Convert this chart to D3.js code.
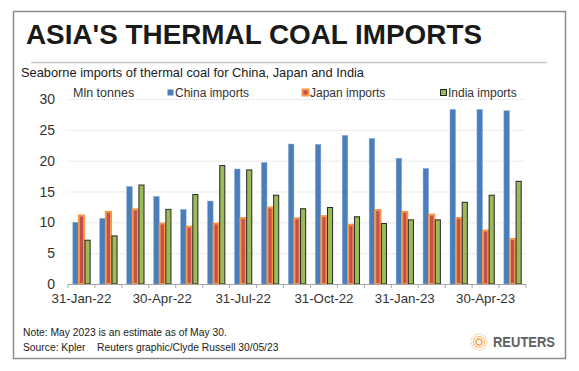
<!DOCTYPE html>
<html>
<head>
<meta charset="utf-8">
<script src="https://cdn.jsdelivr.net/npm/d3@7"></script>
<style>
  body { margin: 0; background: #fff; }
  svg { font-family: "Liberation Sans", Arial, sans-serif; }
</style>
</head>
<body>
<div id="chart"></div>
<script>
// monthly seaborne thermal coal imports, mln tonnes
const months = ["31-Jan-22","28-Feb-22","31-Mar-22","30-Apr-22","31-May-22","30-Jun-22","31-Jul-22","31-Aug-22",
    "30-Sep-22","31-Oct-22","30-Nov-22","31-Dec-22","31-Jan-23","28-Feb-23","31-Mar-23","30-Apr-23","31-May-23"]
const china = [10.0,10.65,15.8,14.2,12.1,13.45,18.65,19.7,22.7,22.65,24.1,23.6,20.4,18.75,28.3,28.3,28.1]
const japan = [11.1,11.7,12.1,9.8,9.3,9.8,10.7,12.4,10.65,11.0,9.6,12.0,11.7,11.25,10.7,8.65,7.3]
const india = [7.1,7.8,16.05,12.1,14.5,19.2,18.5,14.4,12.2,12.4,10.9,9.8,10.4,10.4,13.25,14.4,16.65]
const seriesNames = ["China imports","Japan imports","India imports"]
const yTicks = [0,5,10,15,20,25,30]

const W = 579, H = 371
const margin = {left: 68, right: 53, top: 99, bottom: 87}

let svg = d3.select("#chart").append("svg")
    .attr("width", W).attr("height", H)

// frame
svg.append("rect").attr("x", 13.5).attr("y", 11.5).attr("width", 552).attr("height", 347)
    .attr("fill", "#fff").attr("stroke", "#8c8c8c").attr("stroke-width", 1.5)

svg.append("text").attr("x", 26).attr("y", 44)
    .style("font-size", "28.5px").style("font-weight", "bold").attr("fill", "#1a1a1a")
    .attr("textLength", 456).attr("lengthAdjust", "spacingAndGlyphs")
    .text("ASIA'S THERMAL COAL IMPORTS")

svg.append("line").attr("x1", 31).attr("x2", 547).attr("y1", 62.5).attr("y2", 62.5)
    .attr("stroke", "#c8c8c8").attr("stroke-width", 1.5)

svg.append("text").attr("x", 21).attr("y", 77)
    .style("font-size", "13px").attr("fill", "#1a1a1a")
    .attr("textLength", 343).attr("lengthAdjust", "spacingAndGlyphs")
    .text("Seaborne imports of thermal coal for China, Japan and India")

let x = d3.scaleBand().domain(months)
    .range([margin.left, W - margin.right])
    .paddingInner(0.32).paddingOuter(0.16)

let xs = d3.scaleBand().domain(seriesNames).range([0, x.bandwidth()])

let y = d3.scaleLinear().domain([0, 30]).range([H - margin.bottom, margin.top])

// gridlines
svg.append("g").selectAll("line").data(yTicks.slice(1)).join("line")
    .attr("x1", margin.left).attr("x2", W - margin.right)
    .attr("y1", d => y(d) + 0.5).attr("y2", d => y(d) + 0.5)
    .attr("stroke", "#d9d9d9").attr("stroke-dasharray", "1,1")

// y labels
svg.append("g").selectAll("text").data(yTicks).join("text")
    .attr("x", 55).attr("y", d => y(d) + 5)
    .attr("text-anchor", "end").style("font-size", "14px").attr("fill", "#333")
    .text(d => d)

// bars
let data = months.map((m, i) => ({m: m, v: [china[i], japan[i], india[i]]}))
let groups = svg.append("g").selectAll("g").data(data).join("g")
    .attr("transform", d => `translate(${x(d.m)},0)`)

groups.append("rect")
    .attr("x", xs("China imports") + 0.5).attr("width", xs.bandwidth() - 0.5)
    .attr("y", d => y(d.v[0])).attr("height", d => y(0) - y(d.v[0]))
    .attr("fill", "#4a7ebb").attr("stroke", "#8eb0dc").attr("stroke-width", 0.5)

groups.append("rect")
    .attr("x", xs("Japan imports") + 0.5).attr("width", xs.bandwidth() - 1)
    .attr("y", d => y(d.v[1])).attr("height", d => y(0) - y(d.v[1]))
    .attr("fill", "#c0504d").attr("stroke", "#f79646").attr("stroke-width", 2)

groups.append("rect")
    .attr("x", xs("India imports") + 0.5).attr("width", xs.bandwidth() - 1)
    .attr("y", d => y(d.v[2])).attr("height", d => y(0) - y(d.v[2]))
    .attr("fill", "#9bbb59").attr("stroke", "#262626").attr("stroke-width", 1)

// x axis
let step = x.step()
svg.append("line").attr("x1", margin.left).attr("x2", W - margin.right)
    .attr("y1", y(0) + 0.5).attr("y2", y(0) + 0.5).attr("stroke", "#a6a6a6")
let bounds = d3.range(months.length + 1).map(i => margin.left + i * step)
svg.append("g").selectAll("line").data(bounds).join("line")
    .attr("x1", d => d).attr("x2", d => d)
    .attr("y1", y(0)).attr("y2", y(0) + 4).attr("stroke", "#a6a6a6")

svg.append("g").selectAll("text").data(months.filter((m, i) => i % 3 == 0)).join("text")
    .attr("x", d => x(d) + x.bandwidth() / 2).attr("y", y(0) + 19)
    .attr("text-anchor", "middle").style("font-size", "13.3px").attr("fill", "#333")
    .text(d => d)

// legend
svg.append("text").attr("x", 73).attr("y", 97).style("font-size", "12.5px").attr("fill", "#333")
    .text("Mln tonnes")
let legX = [167, 302, 440]
let leg = svg.append("g").selectAll("g").data(seriesNames).join("g")
    .attr("transform", (d, i) => `translate(${legX[i]},89)`)
leg.append("rect").attr("x", 0.5).attr("y", 0.5).attr("width", 6).attr("height", 6)
    .attr("fill", (d, i) => ["#4a7ebb", "#c0504d", "#9bbb59"][i])
    .attr("stroke", (d, i) => ["#4a7ebb", "#f79646", "#262626"][i])
    .attr("stroke-width", (d, i) => [0, 2, 1][i])
leg.append("text").attr("x", 8).attr("y", 8).style("font-size", "12px").attr("fill", "#333")
    .text(d => d)

// footer
svg.append("text").attr("x", 23).attr("y", 336).style("font-size", "10.3px").attr("fill", "#1a1a1a")
    .text("Note: May 2023 is an estimate as of May 30.")
svg.append("text").attr("x", 23).attr("y", 351).style("font-size", "10.3px").attr("fill", "#1a1a1a")
    .text("Source: Kpler")
svg.append("text").attr("x", 97).attr("y", 351).style("font-size", "10.3px").attr("fill", "#1a1a1a")
    .text("Reuters graphic/Clyde Russell 30/05/23")

// reuters logo
let logo = svg.append("g").attr("transform", "translate(479,342)")
d3.range(36).forEach(i => {
    let a = i / 36 * 2 * Math.PI
    for (let r = 3; r <= 8; r += 2.5) {
        logo.append("circle").attr("cx", Math.cos(a + r * 0.15) * r).attr("cy", Math.sin(a + r * 0.15) * r)
            .attr("r", 0.9 - r * 0.05).attr("fill", "#f39c3a").attr("opacity", 0.55 + (i % 3) * 0.15)
    }
})
svg.append("text").attr("x", 493).attr("y", 347).style("font-size", "14px").style("font-weight", "bold")
    .attr("fill", "#5f5f5f").attr("textLength", 62).attr("lengthAdjust", "spacingAndGlyphs").text("REUTERS")
</script>
</body>
</html>
